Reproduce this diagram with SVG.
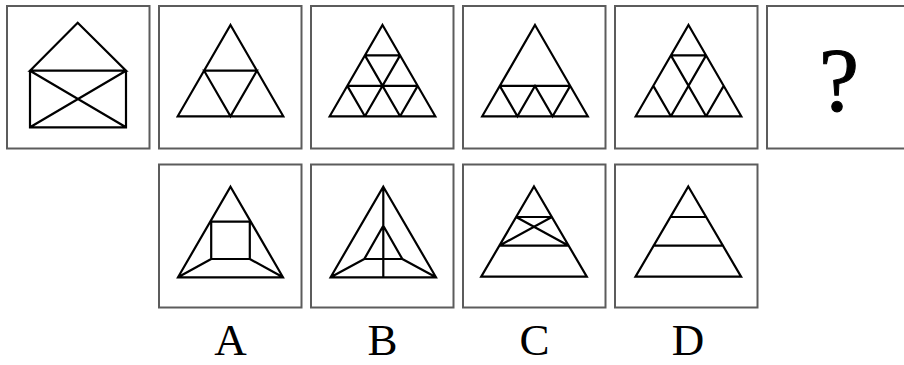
<svg xmlns="http://www.w3.org/2000/svg" width="904" height="365" viewBox="0 0 904 365">
<style>
.box{fill:#fff;stroke:#5c5c5c;stroke-width:2}
.ln{fill:none;stroke:#000;stroke-width:2.2;stroke-linejoin:miter;stroke-linecap:round}
.lbl{font-family:"Liberation Serif","Times New Roman",serif;font-size:45px;text-anchor:middle;fill:#000}
.q{font-family:"Liberation Serif","Times New Roman",serif;font-size:90px;text-anchor:middle;fill:#000;stroke:#000;stroke-width:1}
</style>
<rect width="904" height="365" fill="#fff"/>
<g id="fig1">
<rect class="box" x="7" y="6" width="142.5" height="142.5"/>
<path class="ln" d="M30,70.7 L77.7,22.7 L126,70.7 Z M30,70.7 V127.3 H126 V70.7 M30,70.7 L126,127.3 M126,70.7 L30,127.3"/>
</g>
<g id="fig2">
<rect class="box" x="159" y="6" width="142.5" height="142.5"/>
<path class="ln" d="M230.5,25 L283.3,116.3 L177.7,116.3 Z M204.1,70.7 H256.9 L230.5,116.3 Z"/>
</g>
<g id="fig3">
<rect class="box" x="311" y="6" width="142.5" height="142.5"/>
<path class="ln" d="M382.5,25 L435.3,116.3 L329.7,116.3 Z M364.9,55.4 H400.1 M347.3,85.9 H417.7 M364.9,55.4 L400.1,116.3 M400.1,55.4 L364.9,116.3 M347.3,85.9 L364.9,116.3 M417.7,85.9 L400.1,116.3"/>
</g>
<g id="fig4">
<rect class="box" x="463" y="6" width="142.5" height="142.5"/>
<path class="ln" d="M535,25 L587.8,116.3 L482.2,116.3 Z M499.8,85.9 H570.2 M499.8,85.9 L517.4,116.3 L535,85.9 L552.6,116.3 L570.2,85.9"/>
</g>
<g id="fig5">
<rect class="box" x="615" y="6" width="142.5" height="142.5"/>
<path class="ln" d="M688.5,25 L741.3,116.3 L635.7,116.3 Z M670.9,55.4 H706.1 M670.9,55.4 L706.1,116.3 M706.1,55.4 L670.9,116.3 M653.3,85.9 L670.9,116.3 M723.7,85.9 L706.1,116.3"/>
</g>
<g id="fig6">
<rect class="box" x="767" y="6" width="142.5" height="142.5"/>
<text class="q" x="839" y="111">?</text>
</g>
<g id="optA">
<rect class="box" x="159" y="164.5" width="142.5" height="143"/>
<path class="ln" d="M230.5,186.7 L283,277.3 L178,277.3 Z M211.2,221.7 H249.8 V259 H211.2 Z M211.2,259 L178,277.3 M249.8,259 L283,277.3"/>
<text class="lbl" x="230.5" y="355">A</text>
</g>
<g id="optB">
<rect class="box" x="311" y="164.5" width="142.5" height="143"/>
<path class="ln" d="M383.3,186.7 L436,277.3 L330.6,277.3 Z M383.3,186.7 V277.3 M383.3,225.7 L402.3,259 H364.3 Z M364.3,259 L330.6,277.3 M402.3,259 L436,277.3"/>
<text class="lbl" x="382.5" y="355">B</text>
</g>
<g id="optC">
<rect class="box" x="463" y="164.5" width="142.5" height="143"/>
<path class="ln" d="M534,186.5 L586.8,276.7 L481.2,276.7 Z M516.1,217 H551.9 M499.3,245.7 H568.7 M516.1,217 L568.7,245.7 M551.9,217 L499.3,245.7"/>
<text class="lbl" x="534.5" y="355">C</text>
</g>
<g id="optD">
<rect class="box" x="615" y="164.5" width="142.5" height="143"/>
<path class="ln" d="M688.3,186.5 L741.1,276.7 L635.5,276.7 Z M670.4,217 H706.2 M653.5,245.7 H723.1"/>
<text class="lbl" x="688" y="355">D</text>
</g>
</svg>
